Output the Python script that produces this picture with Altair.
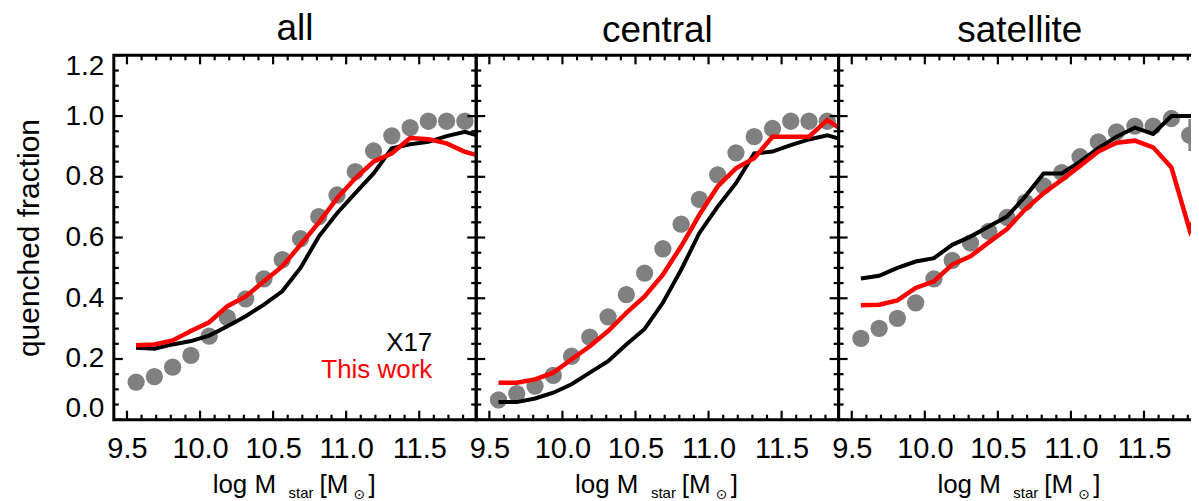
import altair as alt
import pandas as pd

# ---------------- data ----------------
# bin centres of the observed points
x_bins = [9.5625, 9.6875, 9.8125, 9.9375, 10.0625, 10.1875, 10.3125, 10.4375,
          10.5625, 10.6875, 10.8125, 10.9375, 11.0625, 11.1875, 11.3125, 11.4375,
          11.5625, 11.6875, 11.8125]
# model curves: same bins plus the value read where each curve meets the right frame
x_line = [9.5625, 9.6875, 9.8125, 9.9375, 10.0625, 10.1875, 10.3125, 10.4375,
          10.5625, 10.6875, 10.8125, 10.9375, 11.0625, 11.1875, 11.3125, 11.4375,
          11.5625, 11.6875, 11.8125, 11.89]

all_obs = [0.124, 0.142, 0.173, 0.212, 0.275, 0.336, 0.398, 0.464, 0.527, 0.596,
           0.669, 0.740, 0.817, 0.885, 0.935, 0.962, 0.983, 0.983, 0.983]
all_x17 = [0.237, 0.234, 0.248, 0.259, 0.277, 0.308, 0.341, 0.379, 0.423, 0.500,
           0.603, 0.680, 0.746, 0.811, 0.894, 0.907, 0.915, 0.934, 0.948, 0.937]
all_this = [0.245, 0.248, 0.261, 0.292, 0.321, 0.374, 0.406, 0.456, 0.505, 0.576,
            0.649, 0.729, 0.795, 0.850, 0.877, 0.928, 0.924, 0.910, 0.882, 0.872]

cen_obs = [0.065, 0.086, 0.111, 0.146, 0.209, 0.272, 0.339, 0.412, 0.483, 0.563,
           0.644, 0.726, 0.806, 0.879, 0.932, 0.959, 0.983, 0.983, 0.983]
cen_x17 = [0.058, 0.058, 0.070, 0.089, 0.117, 0.155, 0.193, 0.248, 0.299, 0.385,
           0.494, 0.615, 0.702, 0.779, 0.877, 0.883, 0.904, 0.923, 0.937, 0.926]
cen_this = [0.122, 0.122, 0.133, 0.155, 0.199, 0.242, 0.292, 0.352, 0.406, 0.478,
            0.571, 0.675, 0.768, 0.828, 0.861, 0.932, 0.932, 0.932, 0.987, 0.962]

sat_obs = [0.268, 0.301, 0.334, 0.385, 0.464, 0.525, 0.582, 0.620, 0.666, 0.716,
           0.770, 0.814, 0.866, 0.915, 0.948, 0.967, 0.967, 0.992, 0.937]
sat_x17 = [0.465, 0.474, 0.500, 0.521, 0.532, 0.576, 0.603, 0.636, 0.669, 0.735,
           0.811, 0.811, 0.850, 0.894, 0.932, 0.962, 0.941, 1.000, 1.000, 1.000]
sat_this = [0.377, 0.379, 0.393, 0.434, 0.456, 0.511, 0.538, 0.584, 0.628, 0.693,
            0.746, 0.790, 0.836, 0.883, 0.912, 0.919, 0.897, 0.831, 0.625, 0.720]
sat_err_x = [11.8125]
sat_err_lo = [0.885]
sat_err_hi = [0.990]

panel_titles = ["all", "central", "satellite"]
x_major = [9.5, 10.0, 10.5, 11.0, 11.5]
x_minor = [9.6, 9.7, 9.8, 9.9, 10.1, 10.2, 10.3, 10.4, 10.6, 10.7, 10.8, 10.9,
           11.1, 11.2, 11.3, 11.4, 11.6, 11.7, 11.8]
y_major = [0.0, 0.2, 0.4, 0.6, 0.8, 1.0, 1.2]
y_minor = [0.05, 0.10, 0.15, 0.25, 0.30, 0.35, 0.45, 0.50, 0.55, 0.65, 0.70, 0.75,
           0.85, 0.90, 0.95, 1.05, 1.10, 1.15]
legend_labels = ["X17", "This work"]

# ---------------- style ----------------
FONT = "Liberation Sans"
W, H = 363, 365
MAJ, MIN = 9, 5
GRAY = "#808080"
RED = "#ff0000"

xs = alt.Scale(domain=[9.41, 11.89], nice=False, zero=False)
ys = alt.Scale(domain=[0.0, 1.2], nice=False, zero=False)

x_axis = alt.Axis(values=x_major, format=".1f", labelFontSize=29, ticks=False,
                  domain=False, grid=False, labelPadding=15, title=None,
                  labelFlush=False, labelColor="black", labelFont=FONT)
y_axis = alt.Axis(values=y_major, format=".1f", labelFontSize=28, ticks=False,
                  domain=False, grid=False, labelPadding=10, labelFlush=True,
                  labelFlushOffset=3,
                  title="quenched fraction", titleFontSize=30,
                  titleFontWeight="normal", titlePadding=21,
                  labelColor="black", titleColor="black",
                  labelFont=FONT, titleFont=FONT)


def make_panel(title, obs, x17, this, show_y, extra=None):
    ya = y_axis if show_y else None
    X = lambda f: alt.X(f, type="quantitative", scale=xs, axis=x_axis)
    Y = lambda f: alt.Y(f, type="quantitative", scale=ys, axis=ya)

    d_obs = pd.DataFrame({"x": x_bins, "v": obs})
    d_x17 = pd.DataFrame({"x": x_line, "v": x17})
    d_this = pd.DataFrame({"x": x_line, "v": this})

    layers = []
    layers.append(alt.Chart(d_obs).mark_circle(size=300, color=GRAY, opacity=1,
                                               clip=True)
                  .encode(x=X("x"), y=Y("v")))
    if extra is not None:
        layers.append(extra(X, Y))
    layers.append(alt.Chart(d_x17).mark_line(color="black", strokeWidth=4,
                                             clip=True)
                  .encode(x=X("x"), y=Y("v")))
    layers.append(alt.Chart(d_this).mark_line(color=RED, strokeWidth=4.5,
                                              clip=True)
                  .encode(x=X("x"), y=Y("v")))

    # inward ticks on all four sides
    for vals, L in ((x_major, MAJ), (x_minor, MIN)):
        d = pd.DataFrame({"t": vals})
        layers.append(alt.Chart(d).mark_rule(color="black", strokeWidth=2.2)
                      .encode(x=X("t"), y=alt.value(H), y2=alt.value(H - L)))
        layers.append(alt.Chart(d).mark_rule(color="black", strokeWidth=2.2)
                      .encode(x=X("t"), y=alt.value(0), y2=alt.value(L)))
    for vals, L in ((y_major, MAJ), (y_minor, MIN)):
        d = pd.DataFrame({"t": vals})
        layers.append(alt.Chart(d).mark_rule(color="black", strokeWidth=2.2)
                      .encode(y=Y("t"), x=alt.value(0), x2=alt.value(L)))
        layers.append(alt.Chart(d).mark_rule(color="black", strokeWidth=2.2)
                      .encode(y=Y("t"), x=alt.value(W), x2=alt.value(W - L)))

    # x axis title: log M_star [M_sun]
    pieces = [("log M", 99, 438, 26, FONT), ("star", 175, 443, 15, FONT),
              ("[M", 206, 438, 26, FONT), ("\u2299", 240, 444, 14, "DejaVu Sans"),
              ("]", 255, 438, 26, FONT)]
    for txt, px, py, fs, fnt in pieces:
        layers.append(alt.Chart(pd.DataFrame({"s": [txt]}))
                      .mark_text(align="left", baseline="alphabetic", fontSize=fs,
                                 font=fnt, color="black")
                      .encode(x=alt.value(px), y=alt.value(py), text="s:N"))

    return alt.layer(*layers).properties(
        width=W, height=H,
        title=alt.TitleParams(title, fontSize=37, font=FONT, fontWeight="normal",
                              color="black", anchor="middle", offset=4))


def legend_layer(X, Y):
    d = pd.DataFrame({"s": legend_labels})
    return alt.layer(
        alt.Chart(d.iloc[[0]]).mark_text(align="right", baseline="alphabetic",
                                         fontSize=26, font=FONT, color="black")
        .encode(x=alt.value(319), y=alt.value(296), text="s:N"),
        alt.Chart(d.iloc[[1]]).mark_text(align="right", baseline="alphabetic",
                                         fontSize=26, font=FONT, color=RED)
        .encode(x=alt.value(319), y=alt.value(323), text="s:N"),
    )


def errbar_layer(X, Y):
    d = pd.DataFrame({"x": sat_err_x, "lo": sat_err_lo, "hi": sat_err_hi})
    return alt.Chart(d).mark_rule(color=GRAY, strokeWidth=2.5, clip=True).encode(
        x=X("x"), y=Y("lo"), y2="hi")


p1 = make_panel(panel_titles[0], all_obs, all_x17, all_this, True, legend_layer)
p2 = make_panel(panel_titles[1], cen_obs, cen_x17, cen_this, False)
p3 = make_panel(panel_titles[2], sat_obs, sat_x17, sat_this, False, errbar_layer)

chart = (alt.hconcat(p1, p2, p3, spacing=0, bounds="flush")
         .properties(padding={"left": 4, "top": 0, "right": -13, "bottom": 0},
                     background="white")
         .configure_view(stroke="black", strokeWidth=3))

chart.save("out.html", embed_options={"renderer": "svg", "actions": False})
